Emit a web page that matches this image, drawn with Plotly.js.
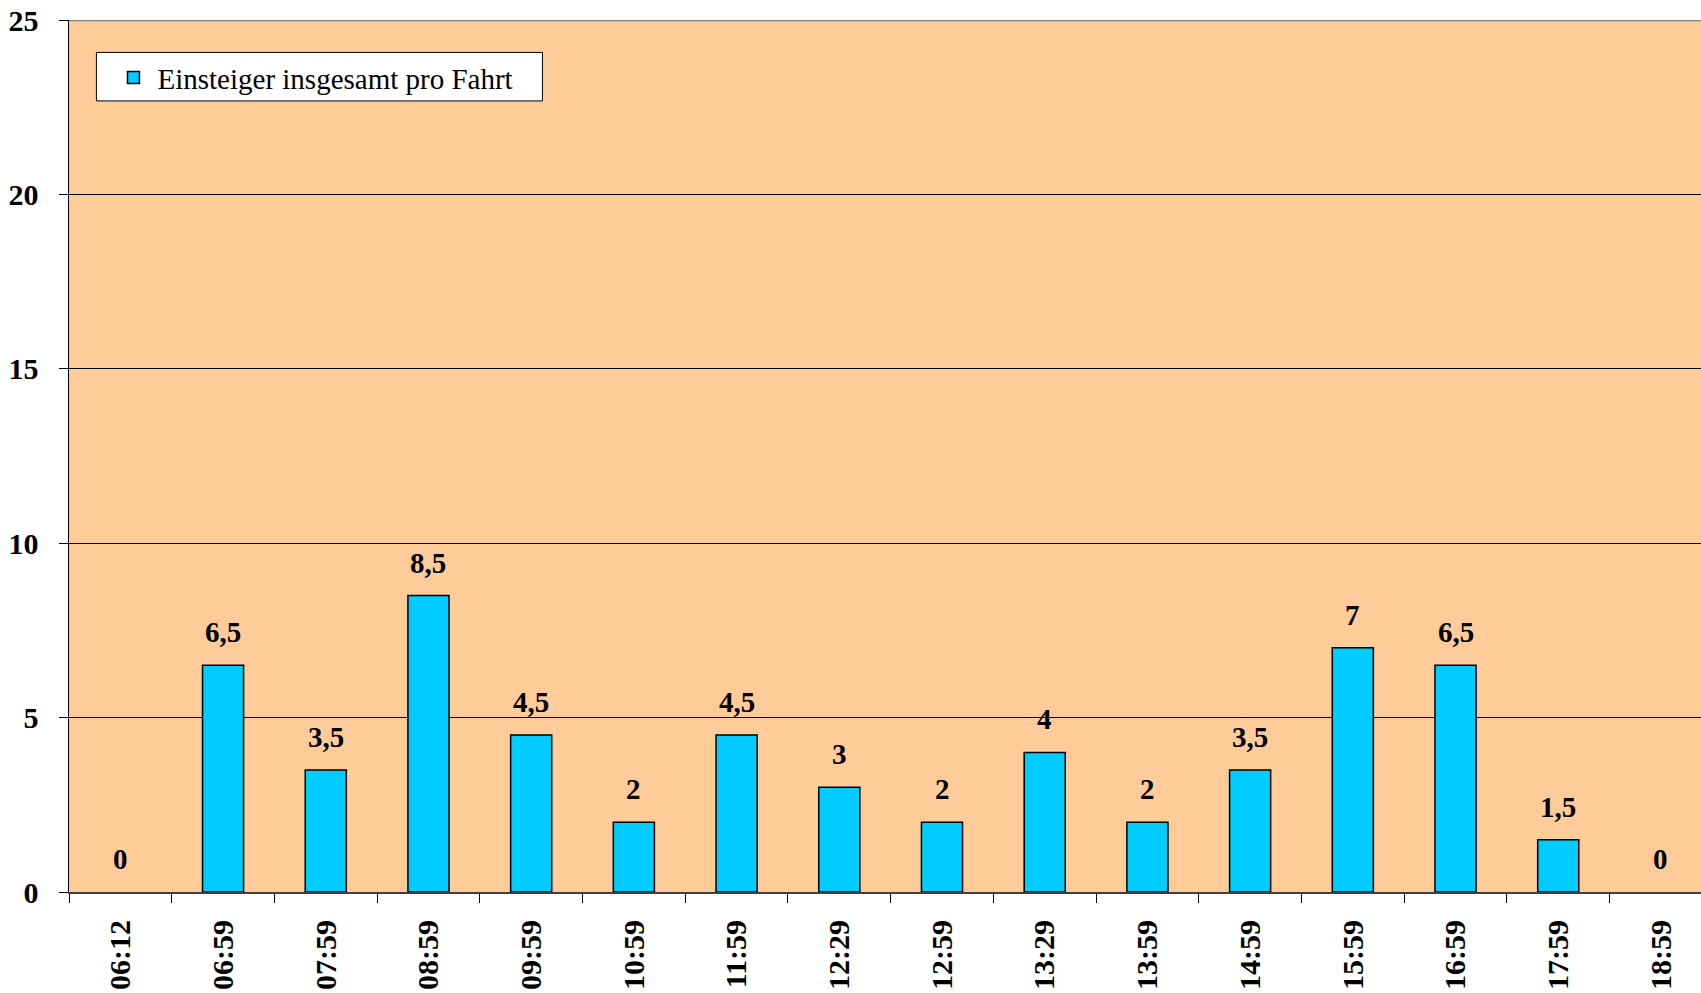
<!DOCTYPE html>
<html>
<head>
<meta charset="utf-8">
<script src="https://cdn.plot.ly/plotly-3.0.1.min.js"></script>
<style>html,body{margin:0;padding:0;background:#fff;}#chart{width:1701px;height:993px;}</style>
</head>
<body>
<div id="chart"></div>
<script>
const categories = ["06:12","06:59","07:59","08:59","09:59","10:59","11:59","12:29","12:59","13:29","13:59","14:59","15:59","16:59","17:59","18:59"];
const values = [0, 6.5, 3.5, 8.5, 4.5, 2, 4.5, 3, 2, 4, 2, 3.5, 7, 6.5, 1.5, 0];
const valueLabels = ["0","6,5","3,5","8,5","4,5","2","4,5","3","2","4","2","3,5","7","6,5","1,5","0"];
const seriesName = "Einsteiger insgesamt pro Fahrt";
const yTicks = [0, 5, 10, 15, 20, 25];

const serif = "'Liberation Serif', 'Times New Roman', serif";
const barColor = '#00CCFF';

const trace = {
  type: 'bar',
  x: categories,
  y: values,
  name: seriesName,
  width: 0.4,
  marker: {color: barColor, line: {color: '#000000', width: values.map(v => v === 0 ? 0 : 1.5)}},
  hoverinfo: 'none',
  showlegend: false
};

// legend entry only
const legendTrace = {
  type: 'bar',
  x: [categories[0]],
  y: [null],
  name: seriesName,
  marker: {color: barColor, line: {color: '#000000', width: 1.5}},
  hoverinfo: 'none',
  showlegend: true
};

const annotations = categories.map((c, i) => ({
  x: c, y: values[i], xref: 'x', yref: 'y',
  text: valueLabels[i], showarrow: false,
  yanchor: 'middle', yshift: 33,
  font: {family: serif, size: 29, color: '#000', weight: 'bold'}
}));

const layout = {
  width: 1701, height: 993,
  margin: {l: 69, r: 0, t: 20, b: 101, pad: 0},
  paper_bgcolor: '#ffffff',
  plot_bgcolor: '#FFCC99',
  barmode: 'overlay',
  showlegend: true,
  legend: {
    x: 0.0248, y: 0.963, xanchor: 'left', yanchor: 'top',
    bgcolor: 'rgba(0,0,0,0)', borderwidth: 0,
    font: {family: serif, size: 29, color: '#000'},
    itemwidth: 38
  },
  xaxis: {
    type: 'category',
    range: [-0.5, 15.39],
    tickson: 'boundaries',
    ticks: 'outside', ticklen: 9, tickcolor: '#000', tickwidth: 1,
    tickangle: -90,
    ticklabelstandoff: 14,
    tickfont: {family: serif, size: 30, color: '#000', weight: 'bold'},
    showgrid: false,
    showline: true, linecolor: '#404040', linewidth: 2,
    zeroline: false,
    fixedrange: true
  },
  yaxis: {
    range: [0, 25],
    tickvals: yTicks,
    ticks: 'outside', ticklen: 9, tickcolor: '#000', tickwidth: 1,
    ticklabelstandoff: 14,
    tickfont: {family: serif, size: 30, color: '#000', weight: 'bold'},
    showgrid: true, gridcolor: '#000000', gridwidth: 1,
    showline: true, linecolor: '#000000', linewidth: 1.5,
    zeroline: false,
    fixedrange: true
  },
  shapes: [
    {
      type: 'line', xref: 'paper', yref: 'y', x0: 0, x1: 1, y0: 25, y1: 25,
      line: {color: '#808080', width: 2.5}
    },
    {
      type: 'rect', xref: 'paper', yref: 'y', layer: 'above',
      x0: 0.0168, x1: 0.2901, y0: 22.68, y1: 24.07,
      fillcolor: '#ffffff', line: {color: '#000000', width: 1}
    }
  ],
  annotations: annotations
};

Plotly.newPlot('chart', [trace, legendTrace], layout, {displayModeBar: false, staticPlot: true});
</script>
</body>
</html>
